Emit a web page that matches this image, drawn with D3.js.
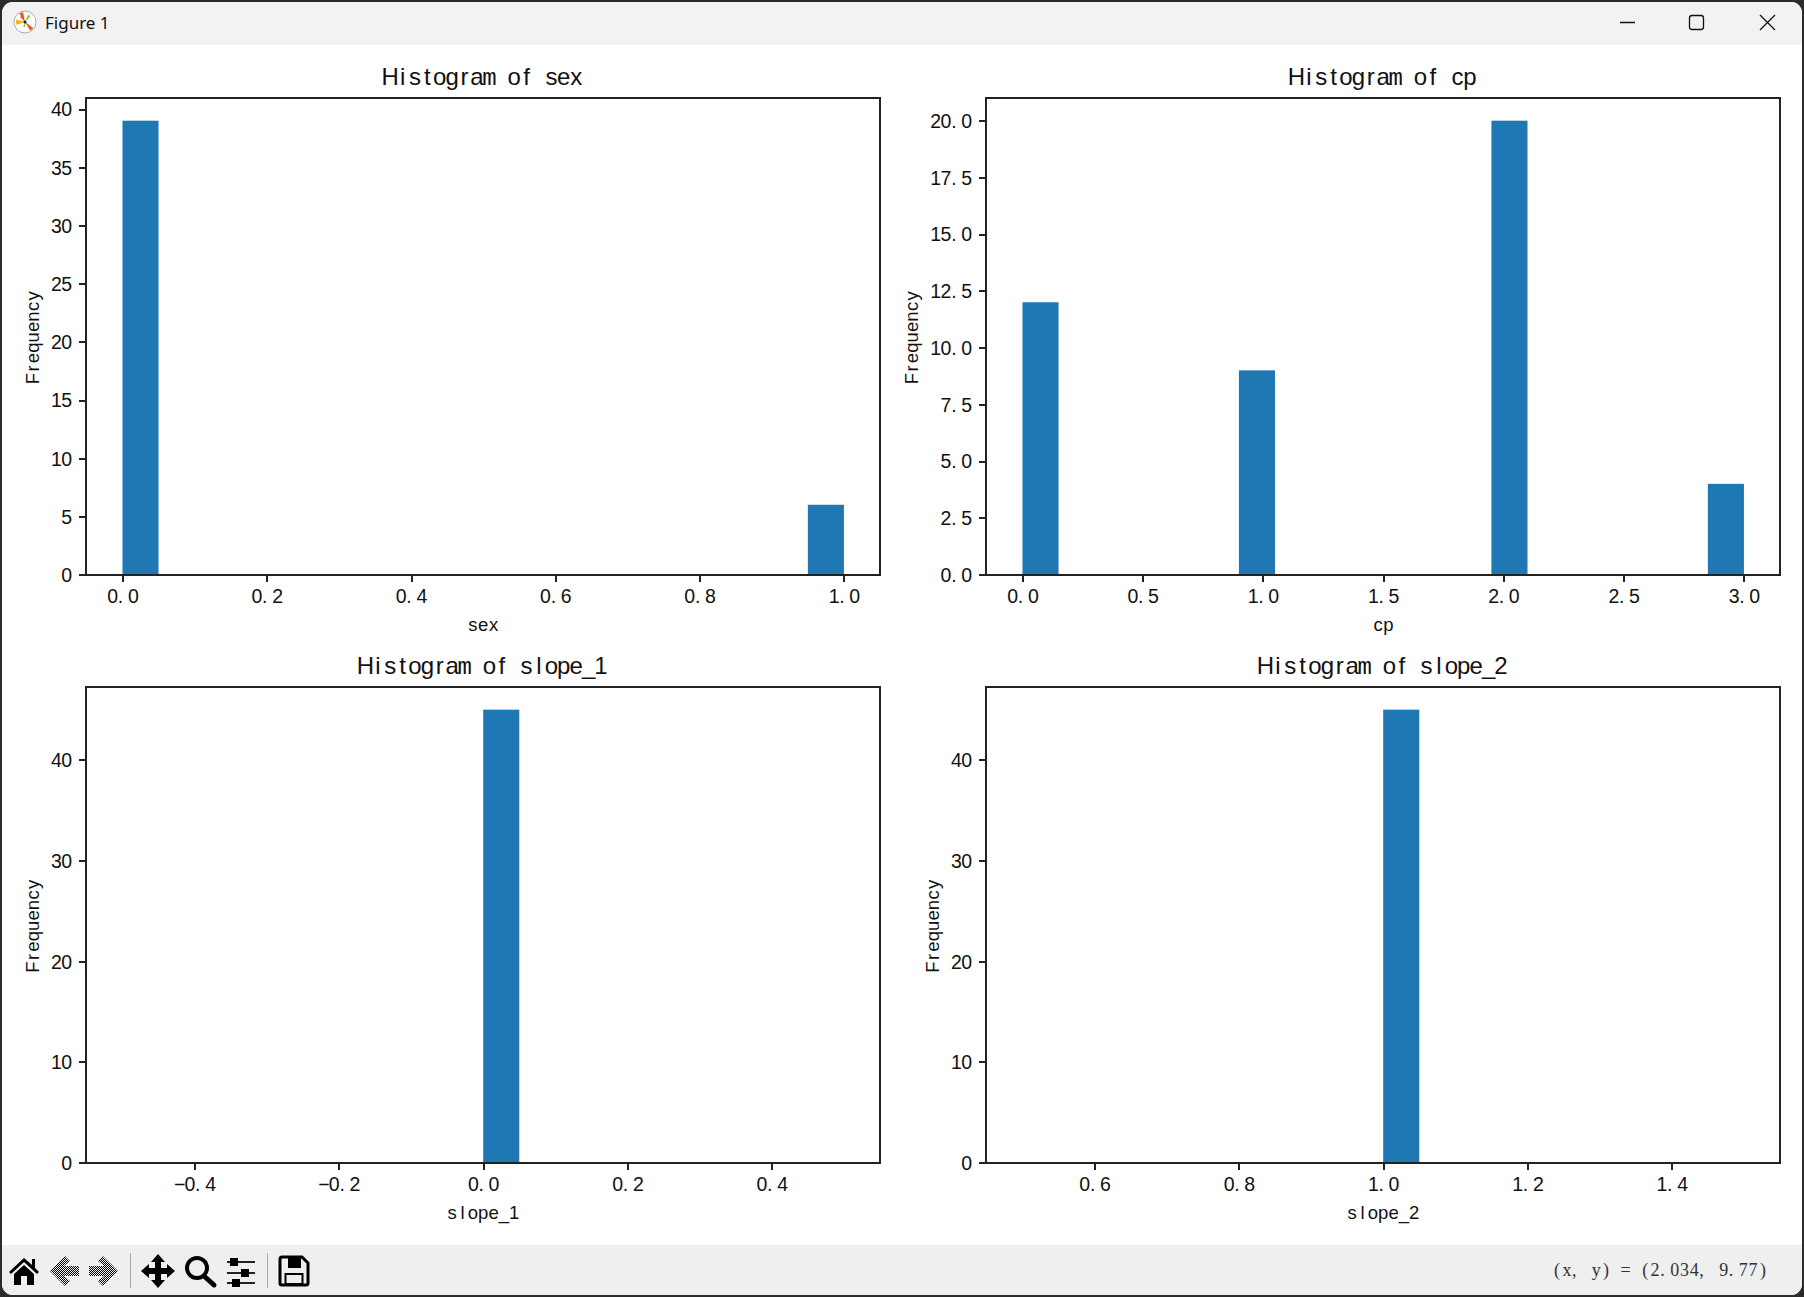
<!DOCTYPE html>
<html lang="en">
<head>
    <meta charset="UTF-8">
    <title>Figure 1</title>
    <script src="https://d3js.org/d3.v7.min.js"></script>
    <style>
        html, body { margin: 0; padding: 0; background: #2b2b2b; overflow: hidden; }
        svg { display: block; }
        text { font-family: "Liberation Sans", sans-serif; fill: #111; }
        .axis path, .axis line { stroke: #222; stroke-width: 2; shape-rendering: crispEdges; }
    </style>
</head>
<body>
    <svg id="fig" width="1804" height="1297"></svg>

    <script>
        // Histogram bins: left edge of each filled bin and its count
        var sexEdges = [0, 0.95];
        var sexCounts = [39, 6];
        var sexBinWidth = [0.05];
        var cpEdges = [0, 0.9, 1.95, 2.85];
        var cpCounts = [12, 9, 20, 4];
        var cpBinWidth = [0.15];
        var slope1Edges = [0];
        var slope1Counts = [45];
        var slope1BinWidth = [0.05];
        var slope2Edges = [1];
        var slope2Counts = [45];
        var slope2BinWidth = [0.05];

        // Tick values
        var sexXTicks = [0, 0.2, 0.4, 0.6, 0.8, 1];
        var sexYTicks = [0, 5, 10, 15, 20, 25, 30, 35, 40];
        var cpXTicks = [0, 0.5, 1, 1.5, 2, 2.5, 3];
        var cpYTicks = [0, 2.5, 5, 7.5, 10, 12.5, 15, 17.5, 20];
        var slope1XTicks = [-0.4, -0.2, 0, 0.2, 0.4];
        var slope2XTicks = [0.6, 0.8, 1, 1.2, 1.4];
        var slopeYTicks = [0, 10, 20, 30, 40];

        var svg = d3.select("#fig");
        var blue = "#1f77b4";
        var tickAdv = 10.35, titleAdv = 12.4;

        // SimHei-like look: every character sits on a fixed grid
        function gridText(sel, adv, cx) {
            sel.each(function() {
                var t = d3.select(this), s = t.text(), c = cx === undefined ? 0 : cx;
                var xs = Array.from(s).map(function(ch, i) {
                    var shift = (ch == "." || ch == ",") ? -2.5 : 0;
                    return (c + (i - (s.length - 1) / 2) * adv + shift).toFixed(2);
                });
                t.attr("x", xs.join(" ")).attr("text-anchor", "middle");
            });
        }

        // ---- window chrome ----
        svg.append("rect").attr("width", 1804).attr("height", 1297).attr("fill", "#2b2b2b");
        svg.append("rect").attr("x", 2).attr("y", 2).attr("width", 1800).attr("height", 1293).attr("rx", 11).attr("fill", "#fff");
        svg.append("path").attr("d", "M2 45V13a11 11 0 0 1 11-11H1791a11 11 0 0 1 11 11V45Z").attr("fill", "#f2f2f2");
        svg.append("path").attr("d", "M2 1245V1284a11 11 0 0 0 11 11H1791a11 11 0 0 0 11-11V1245Z").attr("fill", "#efefef");

        svg.append("text").text("Figure 1").attr("x", 45).attr("y", 29)
            .style("font-family", "'Noto Sans'").style("font-size", "17px");

        // little logo
        var logo = svg.append("g").attr("transform", "translate(25,22)");
        logo.append("circle").attr("r", 11).attr("fill", "#fff").attr("stroke", "#aaa");
        var wedges = [[-0.6, -0.2, 10, "#e8590c"], [0.4, 0.75, 8, "#8cc152"], [2.2, 2.6, 10, "#e8590c"], [3.1, 3.5, 5, "#8cc152"], [4.4, 5, 9, "#f5b400"], [5.5, 5.8, 7, "#e8590c"]];
        wedges.forEach(function(w) {
            logo.append("path").attr("fill", w[3])
                .attr("d", d3.arc()({innerRadius: 0, outerRadius: w[2], startAngle: w[0], endAngle: w[1]}));
        });
        logo.append("circle").attr("r", 1.5).attr("fill", "#222");

        // min / max / close
        svg.append("path").attr("d", "M1620 22.5H1635M1760 15L1775 30M1775 15L1760 30").attr("stroke", "#111").attr("stroke-width", 1.3).attr("fill", "none");
        svg.append("rect").attr("x", 1689.5).attr("y", 15.5).attr("width", 14).attr("height", 14).attr("rx", 2.5).attr("fill", "none").attr("stroke", "#111").attr("stroke-width", 1.3);

        // toolbar
        var defs = svg.append("defs");
        var pat = defs.append("pattern").attr("id", "dither").attr("width", 2).attr("height", 2).attr("patternUnits", "userSpaceOnUse");
        pat.append("rect").attr("width", 1).attr("height", 1).attr("fill", "#000");
        pat.append("rect").attr("x", 1).attr("y", 1).attr("width", 1).attr("height", 1).attr("fill", "#000");

        var bar = svg.append("g").attr("transform", "translate(0,1271)");
        bar.append("path").attr("d", "M9 1L24 -13L32 -6V-12H35V-3L39 1L37 3L24 -9L11 3ZM14 3L24 -6L34 3V14H27V5H21V14H14Z").attr("fill", "#000");
        bar.append("path").attr("d", "M50 0L65 -15L70 -10L64 -5H79V5H64L70 10L65 15Z").attr("fill", "url(#dither)");
        bar.append("path").attr("d", "M118 0L103 -15L98 -10L104 -5H89V5H104L98 10L103 15Z").attr("fill", "url(#dither)");
        bar.append("path").attr("d", "M130.5 -18V17M267.5 -18V17").attr("stroke", "#aaa").attr("stroke-width", 1);
        bar.append("path").attr("d", "M158 -17L165 -9H161V-3H167V-7L175 0L167 7V3H161V9H165L158 17L151 9H155V3H149V7L141 0L149 -7V-3H155V-9H151Z").attr("fill", "#000");
        bar.append("circle").attr("cx", 197).attr("cy", -3).attr("r", 10).attr("fill", "none").attr("stroke", "#000").attr("stroke-width", 4);
        bar.append("path").attr("d", "M204 5L214 14").attr("stroke", "#000").attr("stroke-width", 5).attr("stroke-linecap", "round");
        bar.append("path").attr("d", "M227 -9H255M227 2H255M227 12H255").attr("stroke", "#222").attr("stroke-width", 2);
        bar.append("path").attr("d", "M230 -13h8v8h-8zM241 -2h8v8h-8zM232 8h8v8h-8z").attr("fill", "#000");
        bar.append("path").attr("d", "M282 -14H302L308 -8V12Q308 14 306 14H282Q280 14 280 12V-12Q280 -14 282 -14Z").attr("fill", "none").attr("stroke", "#000").attr("stroke-width", 3);
        bar.append("path").attr("d", "M288 -13H301V-3H288Z").attr("fill", "#000");
        bar.append("rect").attr("x", 285.5).attr("y", 3).attr("width", 17).attr("height", 10).attr("fill", "none").attr("stroke", "#000").attr("stroke-width", 2);

        svg.append("text").text("(x, y) = (2.034, 9.77)").attr("y", 1276)
            .style("font-family", "'Liberation Serif'").style("font-size", "18px").style("fill", "#333")
            .call(gridText, 9.8, 1660);

        // ---- panels ----
        function panel(opt) {
            var x = d3.scaleLinear().domain(opt.xDomain).range(opt.xRange);
            var y = d3.scaleLinear().domain(opt.yDomain).range(opt.yRange);
            var g = svg.append("g");

            g.selectAll(".bar").data(opt.edges).enter().append("rect")
                .attr("class", "bar")
                .attr("fill", blue)
                .attr("x", d => x(d))
                .attr("width", d => x(d + opt.binWidth[0]) - x(d))
                .attr("y", (d, i) => y(opt.counts[i]))
                .attr("height", (d, i) => y(0) - y(opt.counts[i]));

            // frame
            g.append("rect").attr("x", opt.xRange[0]).attr("y", opt.yRange[1])
                .attr("width", opt.xRange[1] - opt.xRange[0]).attr("height", opt.yRange[0] - opt.yRange[1])
                .attr("fill", "none").attr("stroke", "#222").attr("stroke-width", 2).attr("shape-rendering", "crispEdges");

            var xAxis = g.append("g").attr("class", "axis").attr("transform", "translate(0," + opt.yRange[0] + ")")
                .call(d3.axisBottom(x).tickValues(opt.xTicks).tickSize(7.5).tickSizeOuter(0)
                    .tickFormat(d => d3.format(".1f")(d)));
            xAxis.select(".domain").remove();
            xAxis.selectAll("text").attr("y", 28.5).attr("dy", 0).style("font-size", "19.5px").call(gridText, tickAdv);

            var yAxis = g.append("g").attr("class", "axis").attr("transform", "translate(" + opt.xRange[0] + ",0)")
                .call(d3.axisLeft(y).tickValues(opt.yTicks).tickSize(7.5).tickSizeOuter(0)
                    .tickFormat(d => opt.yFormat(d)));
            yAxis.select(".domain").remove();
            yAxis.selectAll("text").attr("dy", "0.35em").style("font-size", "19.5px")
                .each(function() {
                    var n = d3.select(this).text().length;
                    d3.select(this).call(gridText, tickAdv, -14.5 - n * tickAdv / 2);
                });

            var cx = (opt.xRange[0] + opt.xRange[1]) / 2;
            var cy = (opt.yRange[0] + opt.yRange[1]) / 2;
            var title = g.append("text").text("Histogram of " + opt.name)
                .attr("y", opt.yRange[1] - 13).style("font-size", "24px").call(gridText, titleAdv, cx);
            // the sans m is wider than one grid cell, take it from the mono face
            title.html(title.text().replace("m", '<tspan style="font-family:\'Liberation Mono\'">m</tspan>'));
            g.append("text").text(opt.name)
                .attr("y", opt.yRange[0] + 56).style("font-size", "18.5px").call(gridText, tickAdv, cx);
            g.append("text").text("Frequency")
                .attr("transform", "translate(" + opt.yLabelX + "," + (cy + 1) + ") rotate(-90)")
                .style("font-size", "18.5px").call(gridText, tickAdv, 0);
        }

        var fmtInt = d3.format("d"), fmtOne = d3.format(".1f");
        var leftCol = [86.4, 880], rightCol = [986.4, 1780];
        var topRow = [574.6, 98], bottomRow = [1162.6, 687];

        panel({name: "sex", edges: sexEdges, counts: sexCounts, binWidth: sexBinWidth, xDomain: [-0.05, 1.05], yDomain: [0, 40.95],
            xRange: leftCol, yRange: topRow, xTicks: sexXTicks, yTicks: sexYTicks, yFormat: fmtInt, yLabelX: 39});
        panel({name: "cp", edges: cpEdges, counts: cpCounts, binWidth: cpBinWidth, xDomain: [-0.15, 3.15], yDomain: [0, 21],
            xRange: rightCol, yRange: topRow, xTicks: cpXTicks, yTicks: cpYTicks, yFormat: fmtOne, yLabelX: 918});
        panel({name: "slope_1", edges: slope1Edges, counts: slope1Counts, binWidth: slope1BinWidth, xDomain: [-0.55, 0.55], yDomain: [0, 47.25],
            xRange: leftCol, yRange: bottomRow, xTicks: slope1XTicks, yTicks: slopeYTicks, yFormat: fmtInt, yLabelX: 39});
        panel({name: "slope_2", edges: slope2Edges, counts: slope2Counts, binWidth: slope2BinWidth, xDomain: [0.45, 1.55], yDomain: [0, 47.25],
            xRange: rightCol, yRange: bottomRow, xTicks: slope2XTicks, yTicks: slopeYTicks, yFormat: fmtInt, yLabelX: 939});
    </script>
</body>
</html>
